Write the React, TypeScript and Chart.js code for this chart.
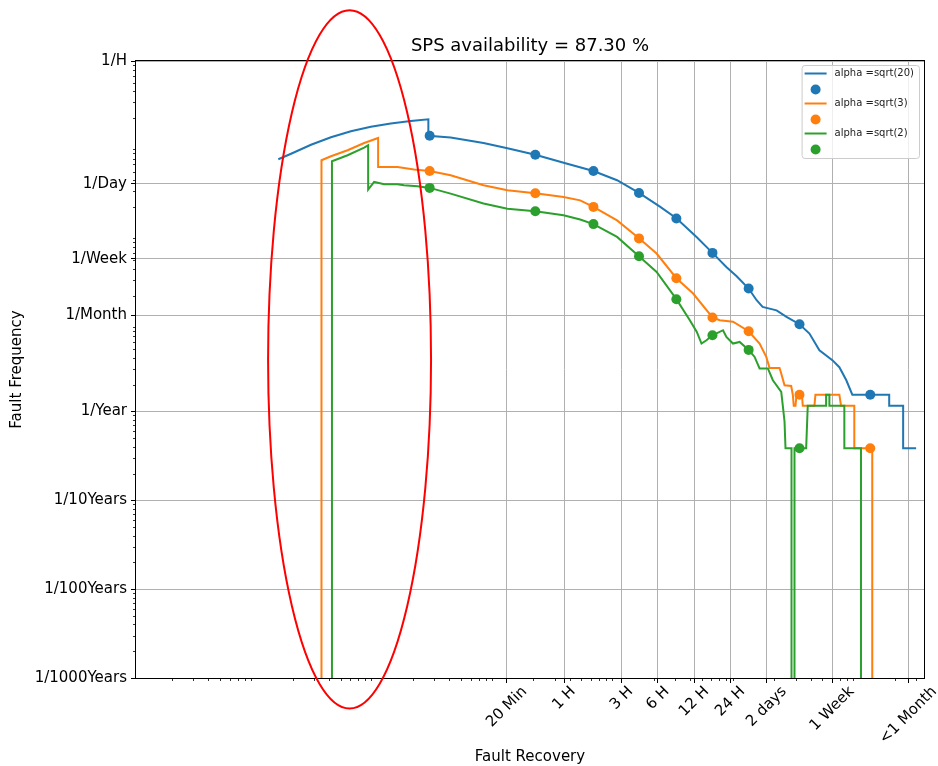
import React, { useEffect, useRef } from "react";
import { Chart, registerables } from "chart.js";

Chart.register(...registerables);

const FONT = "'DejaVu Sans', sans-serif";

const chartTitle = "SPS availability = 87.30 %";
const xAxisTitle = "Fault Recovery";
const yAxisTitle = "Fault Frequency";
const seriesLabels = ["alpha =sqrt(20)", "alpha =sqrt(3)", "alpha =sqrt(2)"];

// x: recovery time in seconds, y: faults per year
const xLimits = [1, 3.5e6];
const yLimits = [0.001, 8760];

const xTickValues = [1200, 3600, 10800, 21600, 43200, 86400, 172800, 604800, 2592000];
const xTickLabels = ["20 Min", "1 H", "3 H", "6 H", "12 H", "24 H", "2 days", "1 Week", "<1 Month"];

const yTickValues = [0.001, 0.01, 0.1, 1, 12, 52.14, 365, 8760];
const yTickLabels = ["1/1000Years", "1/100Years", "1/10Years", "1/Year", "1/Month", "1/Week", "1/Day", "1/H"];

const blueX = [15.2, 19.4, 28.4, 41.6, 60.9, 89.2, 130.6, 191.2, 267.9, 267.9, 410, 769, 1215, 2071, 3812, 6292, 9886, 15040, 22440, 30730, 45430, 61270, 80310, 97360, 122400, 142600, 159800, 208700, 252500, 323600, 391500, 473700, 607000, 693600, 792500, 888600, 1799000, 1799000, 2349000, 2349000, 3010000];
const blueY = [687, 792, 1000, 1214, 1418, 1594, 1731, 1852, 1935, 1262, 1205, 1047, 913, 772, 611, 507, 399, 288, 201, 149, 91.1, 60.7, 41.9, 33.2, 24.1, 17.8, 15.0, 13.7, 11.6, 9.57, 7.52, 4.88, 3.77, 3.14, 2.24, 1.54, 1.54, 1.155, 1.155, 0.385, 0.385];

const orangeX = [34.7, 34.7, 41.6, 57.2, 78.5, 102.5, 102.5, 148.4, 203.6, 274.6, 410, 769, 1215, 2071, 3552, 4884, 6292, 9886, 15040, 21070, 30730, 42330, 61270, 70410, 90760, 122400, 150900, 171500, 182600, 221000, 228300, 243100, 276200, 284800, 290000, 299900, 305600, 339300, 344600, 430600, 438900, 693600, 716400, 923000, 923000, 1301000, 1301000];
const orangeY = [1e-5, 669, 742, 867, 1047, 1192, 563, 563, 526, 507, 454, 350, 308, 285, 259, 237, 200, 141, 88.8, 59.7, 31.5, 21.2, 11.4, 10.6, 10.2, 7.98, 5.8, 4.1, 3.08, 3.08, 2.67, 1.97, 1.93, 1.54, 1.155, 1.155, 1.54, 1.54, 1.155, 1.155, 1.54, 1.54, 1.155, 1.155, 0.385, 0.385, 1e-5];

const greenX = [42.4, 42.4, 57.2, 78.5, 84.7, 84.7, 95.0, 114.9, 148.4, 168.3, 217.3, 274.6, 410, 769, 1215, 2071, 3552, 4884, 6292, 9886, 15040, 21070, 30730, 39750, 45430, 49690, 54650, 61270, 74990, 80010, 90760, 103100, 122400, 137200, 150900, 176800, 194500, 228300, 235300, 243100, 247700, 277800, 277800, 294100, 294100, 367700, 379000, 538300, 538300, 573300, 573300, 762900, 762900, 1049000, 1049000];
const greenY = [1e-5, 652, 762, 930, 987, 313, 383, 359, 359, 350, 341, 327, 282, 218, 191, 179, 161, 144, 128, 91.8, 55.7, 37.1, 18.3, 10.6, 7.84, 5.8, 6.32, 7.19, 8.19, 6.88, 5.8, 6.05, 4.92, 4.1, 3.04, 3.04, 2.24, 1.66, 1.155, 0.77, 0.385, 0.385, 1e-5, 1e-5, 0.385, 0.385, 1.155, 1.155, 1.54, 1.54, 1.155, 1.155, 0.385, 0.385, 1e-5];

const markerX = [274.6, 2071, 6292, 15040, 30730, 61270, 122400, 323600, 1252000];
const blueMarkY = [1262, 772, 507, 287, 148, 60.7, 24.1, 9.57, 1.54];
const orangeMarkY = [507, 285, 200, 88.4, 31.5, 11.4, 7.98, 1.54, 0.385];
const greenMarkY = [327, 179, 128, 55.7, 18.3, 7.19, 4.92, 0.385, null];

// red hand-drawn ellipse annotation, bounds in data units
const ellipseX = [12.5, 282];
const ellipseY = [4.54e-4, 32560];

const COLORS = ["#1f77b4", "#ff7f0e", "#2ca02c"];
const TICK_FS = 15;

const decoPlugin = {
  id: "deco",
  afterDraw(chart: any) {
    const { ctx, chartArea: a, scales } = chart;
    const xs = scales.x;
    const ys = scales.y;
    ctx.save();
    // minor ticks
    ctx.strokeStyle = "#000";
    ctx.lineWidth = 0.8;
    for (let n = -1; n <= 7; n++) {
      for (let k = 2; k <= 9; k++) {
        const v = k * Math.pow(10, n);
        if (v > xLimits[0] && v < xLimits[1]) {
          const px = Math.round(xs.getPixelForValue(v)) + 0.5;
          ctx.beginPath();
          ctx.moveTo(px, a.bottom);
          ctx.lineTo(px, a.bottom + 3);
          ctx.stroke();
        }
      }
    }
    for (let n = -4; n <= 4; n++) {
      for (let k = 2; k <= 9; k++) {
        const v = k * Math.pow(10, n);
        if (v > yLimits[0] && v < yLimits[1]) {
          const py = Math.round(ys.getPixelForValue(v)) + 0.5;
          ctx.beginPath();
          ctx.moveTo(a.left, py);
          ctx.lineTo(a.left - 3, py);
          ctx.stroke();
        }
      }
    }
    // frame
    ctx.lineWidth = 1;
    ctx.strokeStyle = "#000";
    ctx.strokeRect(Math.round(a.left) - 0.5, Math.round(a.top) - 0.5, Math.round(a.right - a.left) + 1, Math.round(a.bottom - a.top) + 1);

    // x tick labels, rotated 45deg, centred on tick
    const fs = TICK_FS;
    ctx.font = `${fs}px ${FONT}`;
    ctx.fillStyle = "#000";
    ctx.textAlign = "center";
    ctx.textBaseline = "middle";
    const top = a.bottom + 5;
    xTickValues.forEach((v, i) => {
      const label = xTickLabels[i];
      const w = ctx.measureText(label).width;
      const h = fs * 1.16;
      const H = (w + h) / Math.SQRT2;
      const px = xs.getPixelForValue(v);
      ctx.save();
      ctx.translate(px, top + H / 2);
      ctx.rotate(-Math.PI / 4);
      ctx.fillText(label, 0, 0);
      ctx.restore();
    });

    // legend
    const lf = 10;
    ctx.font = `${lf}px ${FONT}`;
    let maxW = 0;
    seriesLabels.forEach((l) => (maxW = Math.max(maxW, ctx.measureText(l).width)));
    const boxRight = a.right - 5;
    const boxTop = a.top + 4;
    const boxW = 3 + 30 + maxW + 5;
    const boxLeft = boxRight - boxW;
    const rowH = 15;
    const boxH = 8 + rowH * 5 + 10;
    ctx.fillStyle = "rgba(255,255,255,0.8)";
    ctx.strokeStyle = "#cccccc";
    ctx.lineWidth = 1;
    ctx.beginPath();
    (ctx as any).roundRect(boxLeft + 0.5, boxTop + 0.5, boxW, boxH, 3);
    ctx.fill();
    ctx.stroke();
    const x0 = boxLeft + 3;
    seriesLabels.forEach((l, s) => {
      const yLine = boxTop + 8.5 + rowH * 2 * s;
      const yMark = yLine + rowH + 1;
      ctx.strokeStyle = COLORS[s];
      ctx.lineWidth = 2;
      ctx.beginPath();
      ctx.moveTo(x0, yLine);
      ctx.lineTo(x0 + 22, yLine);
      ctx.stroke();
      ctx.fillStyle = "#222";
      ctx.textAlign = "left";
      ctx.textBaseline = "middle";
      ctx.fillText(l, x0 + 30, yLine);
      ctx.fillStyle = COLORS[s];
      ctx.beginPath();
      ctx.arc(x0 + 11, yMark, 5, 0, Math.PI * 2);
      ctx.fill();
    });

    // red ellipse annotation
    const exl = xs.getPixelForValue(ellipseX[0]);
    const exr = xs.getPixelForValue(ellipseX[1]);
    const eyb = ys.getPixelForValue(ellipseY[0]);
    const eyt = ys.getPixelForValue(ellipseY[1]);
    ctx.strokeStyle = "#ff0000";
    ctx.lineWidth = 2;
    ctx.beginPath();
    ctx.ellipse((exl + exr) / 2, (eyb + eyt) / 2, (exr - exl) / 2, (eyb - eyt) / 2, 0, 0, Math.PI * 2);
    ctx.stroke();
    ctx.restore();
  },
};

export default function App() {
  const ref = useRef<HTMLCanvasElement>(null);
  useEffect(() => {
    const canvas = ref.current;
    if (!canvas) return;
    const lines = [
      [blueX, blueY],
      [orangeX, orangeY],
      [greenX, greenY],
    ];
    const marks = [blueMarkY, orangeMarkY, greenMarkY];
    const datasets: any[] = [];
    lines.forEach(([xs, ys], s) => {
      datasets.push({
        label: seriesLabels[s],
        data: xs.map((x, i) => ({ x, y: ys[i] })),
        borderColor: COLORS[s],
        backgroundColor: COLORS[s],
        borderWidth: 2,
        pointRadius: 0,
        tension: 0,
        fill: false,
        order: 6 - 2 * s,
      });
      datasets.push({
        label: "",
        data: markerX.map((x, i) => ({ x, y: marks[s][i] })),
        showLine: false,
        pointRadius: 5,
        pointBorderWidth: 0,
        pointBackgroundColor: COLORS[s],
        pointBorderColor: COLORS[s],
        borderColor: COLORS[s],
        backgroundColor: COLORS[s],
        order: 5 - 2 * s,
      });
    });

    const chart = new Chart(canvas, {
      type: "line",
      data: { datasets },
      plugins: [decoPlugin],
      options: {
        responsive: false,
        animation: false,
        devicePixelRatio: 1,
        events: [],
        layout: { padding: { left: 0, right: 14, top: 0, bottom: 0 } },
        plugins: {
          legend: { display: false },
          tooltip: { enabled: false },
          title: {
            display: true,
            fullSize: false,
            text: chartTitle,
            color: "#000",
            font: { family: FONT, size: 18, weight: "normal" },
            padding: { top: 36, bottom: 3.4 },
          },
        },
        scales: {
          x: {
            type: "logarithmic",
            position: "bottom",
            min: xLimits[0],
            max: xLimits[1],
            bounds: "data",
            afterBuildTicks: (s: any) => {
              s.ticks = xTickValues.map((v) => ({ value: v }));
            },
            afterFit: (s: any) => {
              s.height = 88;
              s.paddingLeft = 0;
              s.paddingRight = 0;
            },
            ticks: { display: false, autoSkip: false },
            grid: { color: "#b0b0b0", lineWidth: 1, drawTicks: true, tickLength: 5, tickColor: "#000", tickWidth: 1 },
            border: { display: false },
            title: { display: true, text: xAxisTitle, color: "#000", font: { family: FONT, size: 15 }, padding: { top: 0, bottom: 0 } },
          },
          y: {
            type: "logarithmic",
            position: "left",
            min: yLimits[0],
            max: yLimits[1],
            bounds: "data",
            afterBuildTicks: (s: any) => {
              s.ticks = yTickValues.map((v) => ({ value: v }));
            },
            afterFit: (s: any) => {
              s.width = 136;
            },
            ticks: {
              autoSkip: false,
              color: "#000",
              padding: 4,
              font: { family: FONT, size: TICK_FS },
              callback: (_v: any, i: number) => yTickLabels[i],
            },
            grid: { color: "#b0b0b0", lineWidth: 1, drawTicks: true, tickLength: 5, tickColor: "#000", tickWidth: 1 },
            border: { display: false },
            title: { display: true, text: yAxisTitle, color: "#000", font: { family: FONT, size: 15 }, padding: { top: 8, bottom: 0 } },
          },
        },
      } as any,
    });
    return () => chart.destroy();
  }, []);

  return (
    <div style={{ position: "absolute", left: 0, top: 0, width: 938, height: 766, background: "#fff" }}>
      <canvas ref={ref} width={938} height={766} style={{ display: "block", width: 938, height: 766 }} />
    </div>
  );
}
